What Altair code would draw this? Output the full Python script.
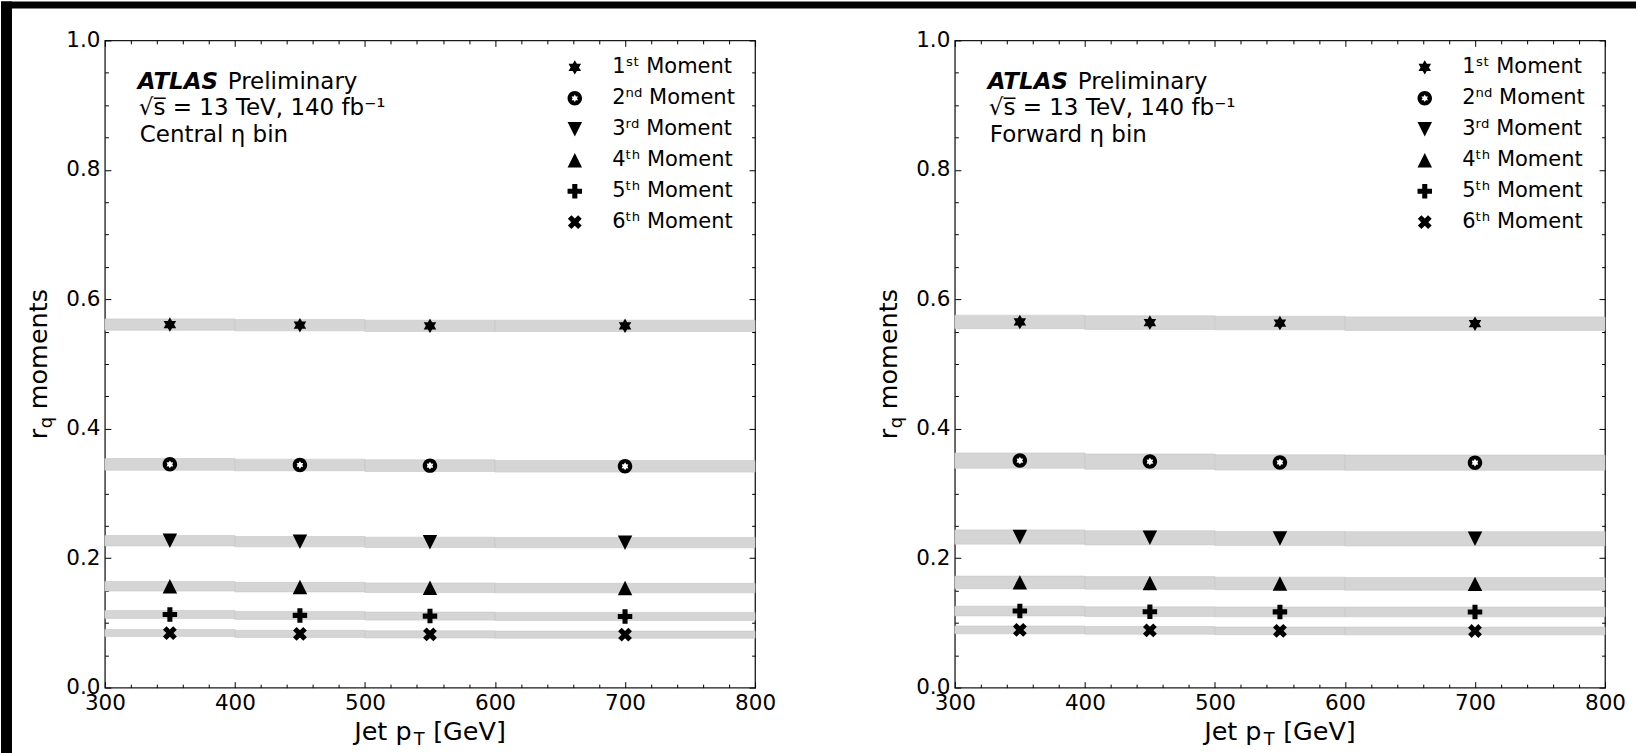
import altair as alt
import pandas as pd

# ---------------- data ----------------
bin_lo = [300, 400, 500, 600]
bin_hi = [400, 500, 600, 800]
bin_center = [350, 450, 550, 700]
moment_labels = ["1ˢᵗ Moment", "2ⁿᵈ Moment", "3ʳᵈ Moment", "4ᵗʰ Moment", "5ᵗʰ Moment", "6ᵗʰ Moment"]

central_m1 = [0.561, 0.560, 0.559, 0.559]
central_m2 = [0.345, 0.344, 0.343, 0.342]
central_m3 = [0.227, 0.2255, 0.2245, 0.224]
central_m4 = [0.1566, 0.1553, 0.1543, 0.1538]
central_m5 = [0.1131, 0.1116, 0.1105, 0.1100]
central_m6 = [0.0843, 0.0831, 0.0823, 0.0818]
central_err = [0.0087, 0.0090, 0.0080, 0.0074, 0.0062, 0.0055]

forward_m1 = [0.565, 0.564, 0.5633, 0.5623]
forward_m2 = [0.3508, 0.3493, 0.3480, 0.3475]
forward_m3 = [0.2327, 0.2315, 0.2304, 0.2300]
forward_m4 = [0.1626, 0.1618, 0.1610, 0.1603]
forward_m5 = [0.1183, 0.1173, 0.1170, 0.1169]
forward_m6 = [0.0892, 0.0885, 0.0877, 0.0875]
forward_err = [0.0105, 0.0118, 0.0110, 0.0097, 0.0075, 0.0060]

x_major = [300, 400, 500, 600, 700, 800]
x_minor = [320, 340, 360, 380, 420, 440, 460, 480, 520, 540, 560, 580,
           620, 640, 660, 680, 720, 740, 760, 780]
y_major = [0.0, 0.2, 0.4, 0.6, 0.8, 1.0]
y_minor = [0.05, 0.1, 0.15, 0.25, 0.3, 0.35, 0.45, 0.5, 0.55, 0.65, 0.7,
           0.75, 0.85, 0.9, 0.95]

atlas_word = ["ATLAS"]
prelim_word = ["Preliminary"]
energy_text = ["√s̅ = 13 TeV, 140 fb⁻¹"]
region_text = {"central": ["Central η bin"], "forward": ["Forward η bin"]}
xtitle_parts = ["Jet p", "T", "[GeV]"]
ytitle_parts = ["r", "q", "moments"]

# ---------------- table ----------------
rows = []
for panel, vals, errs in [
    ("central", [central_m1, central_m2, central_m3, central_m4, central_m5, central_m6], central_err),
    ("forward", [forward_m1, forward_m2, forward_m3, forward_m4, forward_m5, forward_m6], forward_err),
]:
    for lab, series, e in zip(moment_labels, vals, errs):
        for lo, hi, c, v in zip(bin_lo, bin_hi, bin_center, series):
            rows.append(dict(panel=panel, moment=lab, lo=lo, hi=hi, pt=c, val=v,
                             ylo=v - e, yhi=v + e))
df = pd.DataFrame(rows)

# ---------------- marker shapes ----------------
STAR = ("M0,-1L0.2887,-0.5L0.866,-0.5L0.5774,0L0.866,0.5L0.2887,0.5L0,1"
        "L-0.2887,0.5L-0.866,0.5L-0.5774,0L-0.866,-0.5L-0.2887,-0.5Z")
CIRCLE_HOLE = ("M0,-1A1,1,0,1,1,0,1A1,1,0,1,1,0,-1Z"
               "M0,-0.52L-0.1501,-0.26L-0.4503,-0.26L-0.3002,0L-0.4503,0.26L-0.1501,0.26"
               "L0,0.52L0.1501,0.26L0.4503,0.26L0.3002,0L0.4503,-0.26L0.1501,-0.26Z")
TRI_DOWN = "M-1,-1L1,-1L0,1Z"
TRI_UP = "M0,-1L1,1L-1,1Z"
PLUS = ("M-0.35,-1L0.35,-1L0.35,-0.35L1,-0.35L1,0.35L0.35,0.35L0.35,1L-0.35,1"
        "L-0.35,0.35L-1,0.35L-1,-0.35L-0.35,-0.35Z")
XSHAPE = ("M0.4596,-0.9546L0.9546,-0.4596L0.495,0L0.9546,0.4596L0.4596,0.9546L0,0.495"
          "L-0.4596,0.9546L-0.9546,0.4596L-0.495,0L-0.9546,-0.4596L-0.4596,-0.9546L0,-0.495Z")
shape_range = [STAR, CIRCLE_HOLE, TRI_DOWN, TRI_UP, PLUS, XSHAPE]

W, H = 651, 648
FONT = "DejaVu Sans"
TITLE_SIZE = 25.5
SUB_SIZE = 17.8
NOTE_SIZE = 23


def tick_axis(orient, offset, values, size):
    return alt.Axis(orient=orient, offset=offset, values=values, labels=False,
                    domain=False, ticks=True, tickSize=size, tickColor="black",
                    tickWidth=1, grid=False, title=None)


def text_layer(values, x, y, size=NOTE_SIZE, dx=0, dy=0, weight="normal", style="normal",
               angle=0):
    return alt.Chart(pd.DataFrame({"t": values})).mark_text(
        align="left", baseline="alphabetic", font=FONT, fontSize=size,
        fontWeight=weight, fontStyle=style, color="black", dx=dx, dy=dy, angle=angle
    ).encode(text="t:N", x=alt.value(x), y=alt.value(y))


def make_panel(key, with_frame):
    d = df[df.panel == key]
    base = alt.Chart(d)
    xs = alt.Scale(domain=[300, 800], nice=False, zero=False)
    ys = alt.Scale(domain=[0, 1], nice=False, zero=False)

    bands = base.mark_rect(color="#d5d5d5", stroke="#c6c6c6", strokeWidth=0.6).encode(
        x=alt.X("lo:Q", scale=xs, axis=alt.Axis(
            orient="bottom", values=x_major, format="d", labelFlush=False,
            labelOverlap=False, ticks=False, domain=False, grid=False, title=None,
            labelPadding=5)),
        x2="hi:Q",
        y=alt.Y("ylo:Q", scale=ys, axis=alt.Axis(
            orient="left", values=y_major, format=".1f", labelFlush=False,
            labelOverlap=False, ticks=False, domain=False, grid=False, title=None,
            labelPadding=5)),
        y2="yhi:Q",
    )

    helpers = []
    for xo, yo, xv, yv, sz in [
        ("top", "right", x_major, y_major, 6),
        ("top", "right", x_minor, y_minor, 3.5),
        ("bottom", "left", x_major, y_major, 6),
        ("bottom", "left", x_minor, y_minor, 3.5),
    ]:
        helpers.append(base.mark_point(opacity=0).encode(
            x=alt.X("pt:Q", scale=xs, axis=tick_axis(xo, -H, xv, sz)),
            y=alt.Y("val:Q", scale=ys, axis=tick_axis(yo, -W, yv, sz)),
        ))

    points = base.mark_point(filled=True, color="black", opacity=1, size=210,
                             strokeWidth=0).encode(
        x=alt.X("pt:Q", scale=xs, axis=None),
        y=alt.Y("val:Q", scale=ys, axis=None),
        shape=alt.Shape("moment:N", scale=alt.Scale(domain=moment_labels, range=shape_range),
                        legend=alt.Legend(orient="none", legendX=460, legendY=16.5, title=None,
                                          labelFontSize=21, labelFont=FONT, labelColor="black",
                                          symbolSize=210, rowPadding=9, labelOffset=27,
                                          padding=0, symbolStrokeWidth=0,
                                          symbolFillColor="black")),
    )
    inner_star = base.transform_filter(alt.datum.moment == moment_labels[1]).mark_point(
        filled=True, color="white", opacity=1, size=55, shape=STAR, strokeWidth=0
    ).encode(
        x=alt.X("pt:Q", scale=xs, axis=None),
        y=alt.Y("val:Q", scale=ys, axis=None),
    )

    texts = [
        text_layer(atlas_word, 33, 48.7, weight="bold", style="italic"),
        text_layer(prelim_word, 33, 48.7, dx=90),
        text_layer(energy_text, 34, 75),
        text_layer(region_text[key], 35, 101.5),
        text_layer([xtitle_parts[0]], 249.6, 700.5, size=TITLE_SIZE),
        text_layer([xtitle_parts[1]], 249.6, 700.5, size=SUB_SIZE, dx=59.7, dy=5),
        text_layer([xtitle_parts[2]], 249.6, 700.5, size=TITLE_SIZE, dx=79.1),
        text_layer([ytitle_parts[0]], -58, 399.3, size=TITLE_SIZE, angle=270),
        text_layer([ytitle_parts[1]], -58, 399.3, size=SUB_SIZE, dx=11, dy=5, angle=270),
        text_layer([ytitle_parts[2]], -58, 399.3, size=TITLE_SIZE, dx=30, angle=270),
    ]

    layers = [bands] + helpers + [points, inner_star] + texts
    if with_frame:
        one = pd.DataFrame({"k": [0]})
        layers.append(alt.Chart(one).mark_rect(color="black", strokeWidth=0).encode(
            x=alt.value(-104), x2=alt.value(-93), y=alt.value(-39), y2=alt.value(714)))
        layers.append(alt.Chart(one).mark_rect(color="black", strokeWidth=0).encode(
            x=alt.value(-104), x2=alt.value(1533), y=alt.value(-39), y2=alt.value(-32)))

    return alt.layer(*layers).resolve_axis(x="independent", y="independent").properties(
        width=W, height=H)


left = make_panel("central", True)
right = make_panel("forward", False)

chart = alt.hconcat(left, right, spacing=200, bounds="flush").resolve_scale(
    shape="independent"
).configure(
    padding=0,
    background="white",
).configure_view(
    stroke="#1a1a1a", strokeWidth=1.3,
).configure_axis(
    labelFont=FONT, labelFontSize=21.5, labelColor="black",
)

chart.save("out.html", embed_options={"renderer": "svg", "actions": False})
